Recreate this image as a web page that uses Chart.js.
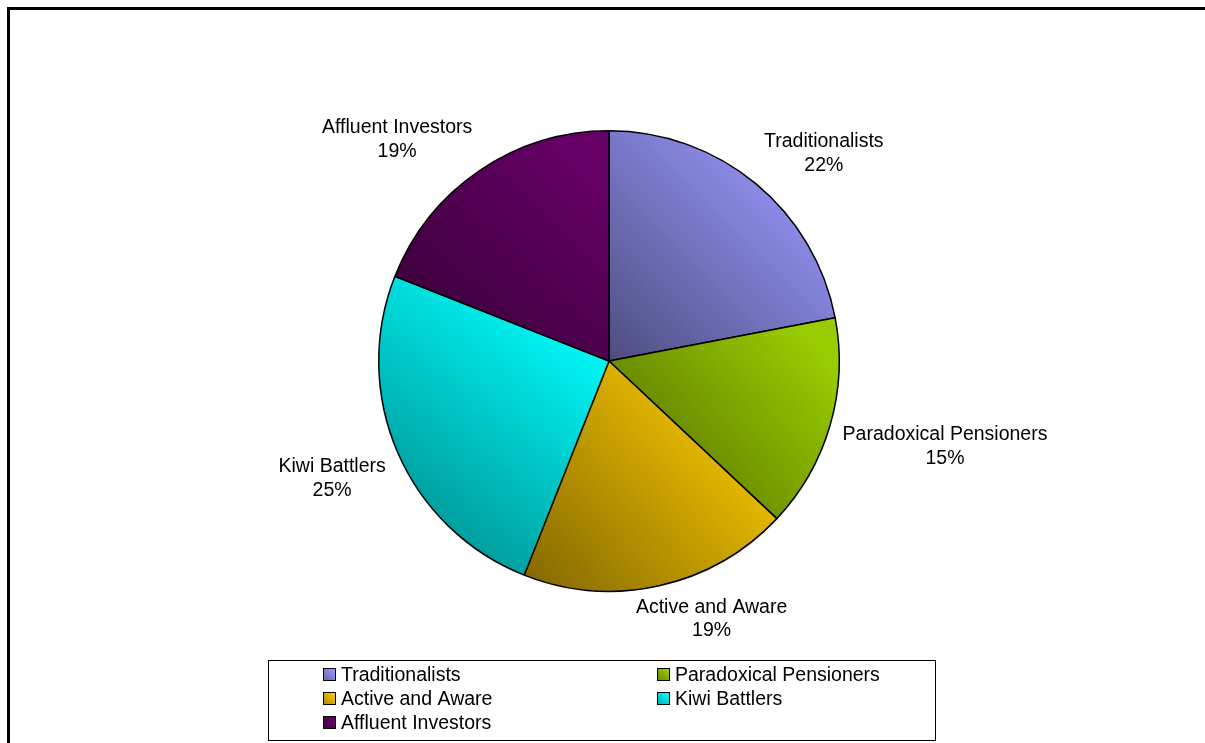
<!DOCTYPE html>
<html>
<head>
<meta charset="utf-8">
<title>Segments</title>
<script src="https://cdn.jsdelivr.net/npm/chart.js@4/dist/chart.umd.min.js"></script>
<style>
    html, body { margin: 0; padding: 0; background: #fff; overflow: hidden; }
    #wrap { position: relative; width: 1205px; height: 743px; }
    #segmentChart { position: absolute; left: 0; top: 0; }
    #frame {
        position: absolute; left: 7px; top: 7px;
        width: 1300px; height: 800px;
        border: 3px solid #000; pointer-events: none;
    }
</style>
</head>
<body>
<div id="wrap">
    <canvas id="segmentChart" width="1205" height="743"></canvas>
    <div id="frame"></div>
</div>
<script>
// Segment names and their share of the sample (%)
const segments = ['Traditionalists', 'Paradoxical Pensioners', 'Active and Aware', 'Kiwi Battlers', 'Affluent Investors'];
const shares = [22, 15, 19, 25, 19];
const segmentColors = ['#9999ff', '#99cc00', '#ffcc00', '#00ffff', '#660066'];

const FONT = '19.5px "Liberation Sans", Arial, sans-serif';

// Darken a hex colour by a factor
function shade(hex, f) {
    const n = parseInt(hex.slice(1), 16);
    const r = Math.round(((n >> 16) & 255) * f);
    const g = Math.round(((n >> 8) & 255) * f);
    const b = Math.round((n & 255) * f);
    return `rgb(${r}, ${g}, ${b})`;
}

// Diagonal gradient, light at top-right, dark at bottom-left
function diagGradient(ctx, x0, y0, x1, y1, hex, dark) {
    const g = ctx.createLinearGradient(x1, y0, x0, y1);
    g.addColorStop(0, hex);
    g.addColorStop(0.12, hex);
    g.addColorStop(1, shade(hex, dark));
    return g;
}

// Fill each slice with a gradient spanning the slice's own bounding box
function sliceFill(context) {
    const chart = context.chart;
    const area = chart.chartArea;
    const i = context.dataIndex;
    const base = segmentColors[i];
    if (!area || i === undefined) return base;

    const cx = (area.left + area.right) / 2;
    const cy = (area.top + area.bottom) / 2;
    const r = Math.min(area.right - area.left, area.bottom - area.top) / 2;
    const total = shares.reduce((a, b) => a + b, 0);
    let before = 0;
    for (let k = 0; k < i; k++) before += shares[k];
    const start = -Math.PI / 2 + before / total * Math.PI * 2;
    const end = start + shares[i] / total * Math.PI * 2;

    const xs = [cx, cx + r * Math.cos(start), cx + r * Math.cos(end)];
    const ys = [cy, cy + r * Math.sin(start), cy + r * Math.sin(end)];
    for (let q = -4; q <= 4; q++) {
        const a = q * Math.PI / 2;
        if (a > start && a < end) {
            xs.push(cx + r * Math.cos(a));
            ys.push(cy + r * Math.sin(a));
        }
    }
    return diagGradient(chart.ctx, Math.min(...xs), Math.min(...ys), Math.max(...xs), Math.max(...ys), base, 0.5);
}

// Two-line labels (name + percent) placed just outside each slice
const outsideLabels = {
    id: 'outsideLabels',
    afterDatasetsDraw(chart) {
        const ctx = chart.ctx;
        const meta = chart.getDatasetMeta(0);
        const total = shares.reduce((a, b) => a + b, 0);
        const clamp = v => Math.max(-1, Math.min(1, v));
        const lineH = 23.5;
        const boxH = 41;

        ctx.save();
        ctx.font = FONT;
        ctx.fillStyle = '#000';
        ctx.textAlign = 'center';
        ctx.textBaseline = 'alphabetic';

        meta.data.forEach((arc, i) => {
            const p = arc.getProps(['x', 'y', 'startAngle', 'endAngle', 'outerRadius'], true);
            const mid = (p.startAngle + p.endAngle) / 2;
            const dx = Math.cos(mid);
            const dy = Math.sin(mid);
            const name = chart.data.labels[i];
            const pct = Math.round(shares[i] / total * 100) + '%';
            const w = Math.max(ctx.measureText(name).width, ctx.measureText(pct).width);

            const ax = p.x + dx * (p.outerRadius + 13);
            const ay = p.y + dy * (p.outerRadius + 13);
            const bx = ax + (w / 2) * clamp(dx * 3);
            const by = ay + (boxH / 2) * clamp(dy * 3);

            const base1 = by - boxH / 2 + 14.5;
            ctx.fillText(name, bx, base1);
            ctx.fillText(pct, bx, base1 + lineH);
        });
        ctx.restore();
    }
};

// Boxed legend in two columns below the pie
const boxedLegend = {
    id: 'boxedLegend',
    afterDraw(chart) {
        const ctx = chart.ctx;
        const box = { x: 268.5, y: 660.5, w: 667, h: 80 };
        const cols = [323, 657];
        const rowTop = 668;
        const rowStep = 24;
        const sq = 13;

        ctx.save();
        ctx.strokeStyle = '#000';
        ctx.lineWidth = 1;
        ctx.strokeRect(box.x, box.y, box.w, box.h);

        ctx.font = FONT;
        ctx.textAlign = 'left';
        ctx.textBaseline = 'alphabetic';
        chart.data.labels.forEach((name, i) => {
            const x = cols[i % 2];
            const y = rowTop + Math.floor(i / 2) * rowStep;
            ctx.fillStyle = diagGradient(ctx, x, y, x + sq, y + sq, segmentColors[i], 0.65);
            ctx.fillRect(x, y, sq, sq);
            ctx.strokeStyle = '#000';
            ctx.strokeRect(x + 0.5, y + 0.5, sq - 1, sq - 1);
            ctx.fillStyle = '#000';
            ctx.fillText(name, x + 18, y + 13);
        });
        ctx.restore();
    }
};

const chart = new Chart(document.getElementById('segmentChart'), {
    type: 'pie',
    data: {
        labels: segments,
        datasets: [{
            data: shares,
            backgroundColor: sliceFill,
            borderColor: '#000',
            borderWidth: 1.5
        }]
    },
    options: {
        responsive: false,
        animation: false,
        layout: {
            padding: { left: 378, right: 365, top: 130, bottom: 151 }
        },
        plugins: {
            legend: { display: false },
            tooltip: { enabled: false }
        }
    },
    plugins: [outsideLabels, boxedLegend]
});
</script>
</body>
</html>
